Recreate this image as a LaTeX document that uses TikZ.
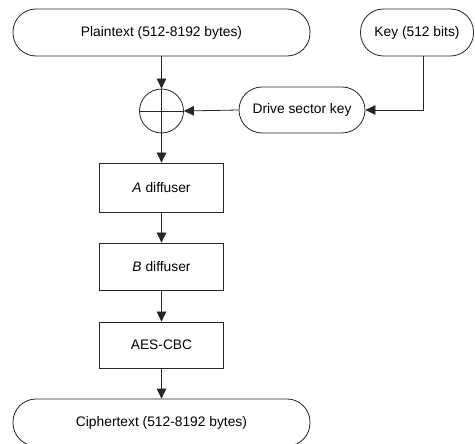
\documentclass[tikz,border=0pt]{standalone}
\usepackage{fontspec}
\setmainfont{Liberation Sans}
\usetikzlibrary{arrows.meta}
\begin{document}
\begin{tikzpicture}[x=1pt,y=-1pt,
  every node/.style={font=\fontsize{13.8}{16}\selectfont, text=black},
  line/.style={draw=black!85, line width=0.8pt},
  arr/.style={line, -{Triangle[length=10pt,width=9.5pt]}},
  stadium/.style={line, rectangle, rounded corners=23pt, minimum height=47pt, inner sep=0pt},
  blk/.style={line, rectangle, minimum width=124pt, inner sep=0pt},
  xorc/.style={line, circle, minimum size=44pt, inner sep=0pt}]
\useasboundingbox (0,0) rectangle (475,444);
\node[stadium, minimum width=297pt] (plain) at (161.5,32.5) {Plaintext (512-8192 bytes)};
\node[stadium, minimum width=113pt] (key) at (417,32.5) {Key (512 bits)};
\node[xorc] (xor) at (161.5,111) {};
\node[stadium, minimum width=126pt, minimum height=46pt] (drive) at (302,110) {Drive sector key};
\node[blk, minimum height=49pt] (A) at (161.5,187.5) {\textit{A} diffuser};
\node[blk, minimum height=47pt] (B) at (161.5,266.5) {\textit{B} diffuser};
\node[blk, minimum height=46pt] (aes) at (161.5,345) {AES-CBC};
\node[stadium, minimum width=297pt] (cipher) at (161.5,422.5) {Ciphertext (512-8192 bytes)};
\draw[line] (xor.north) -- (xor.south);
\draw[line] (xor.west) -- (xor.east);
\draw[arr] (plain.south) -- (xor.north);
\draw[arr] (xor.south) -- (A.north);
\draw[arr] (drive.west) -- (xor.east);
\draw[arr] ([xshift=6pt]key.south) |- (drive.east);
\draw[arr] (A.south) -- (B.north);
\draw[arr] (B.south) -- (aes.north);
\draw[arr] (aes.south) -- (cipher.north);
\end{tikzpicture}
\end{document}
